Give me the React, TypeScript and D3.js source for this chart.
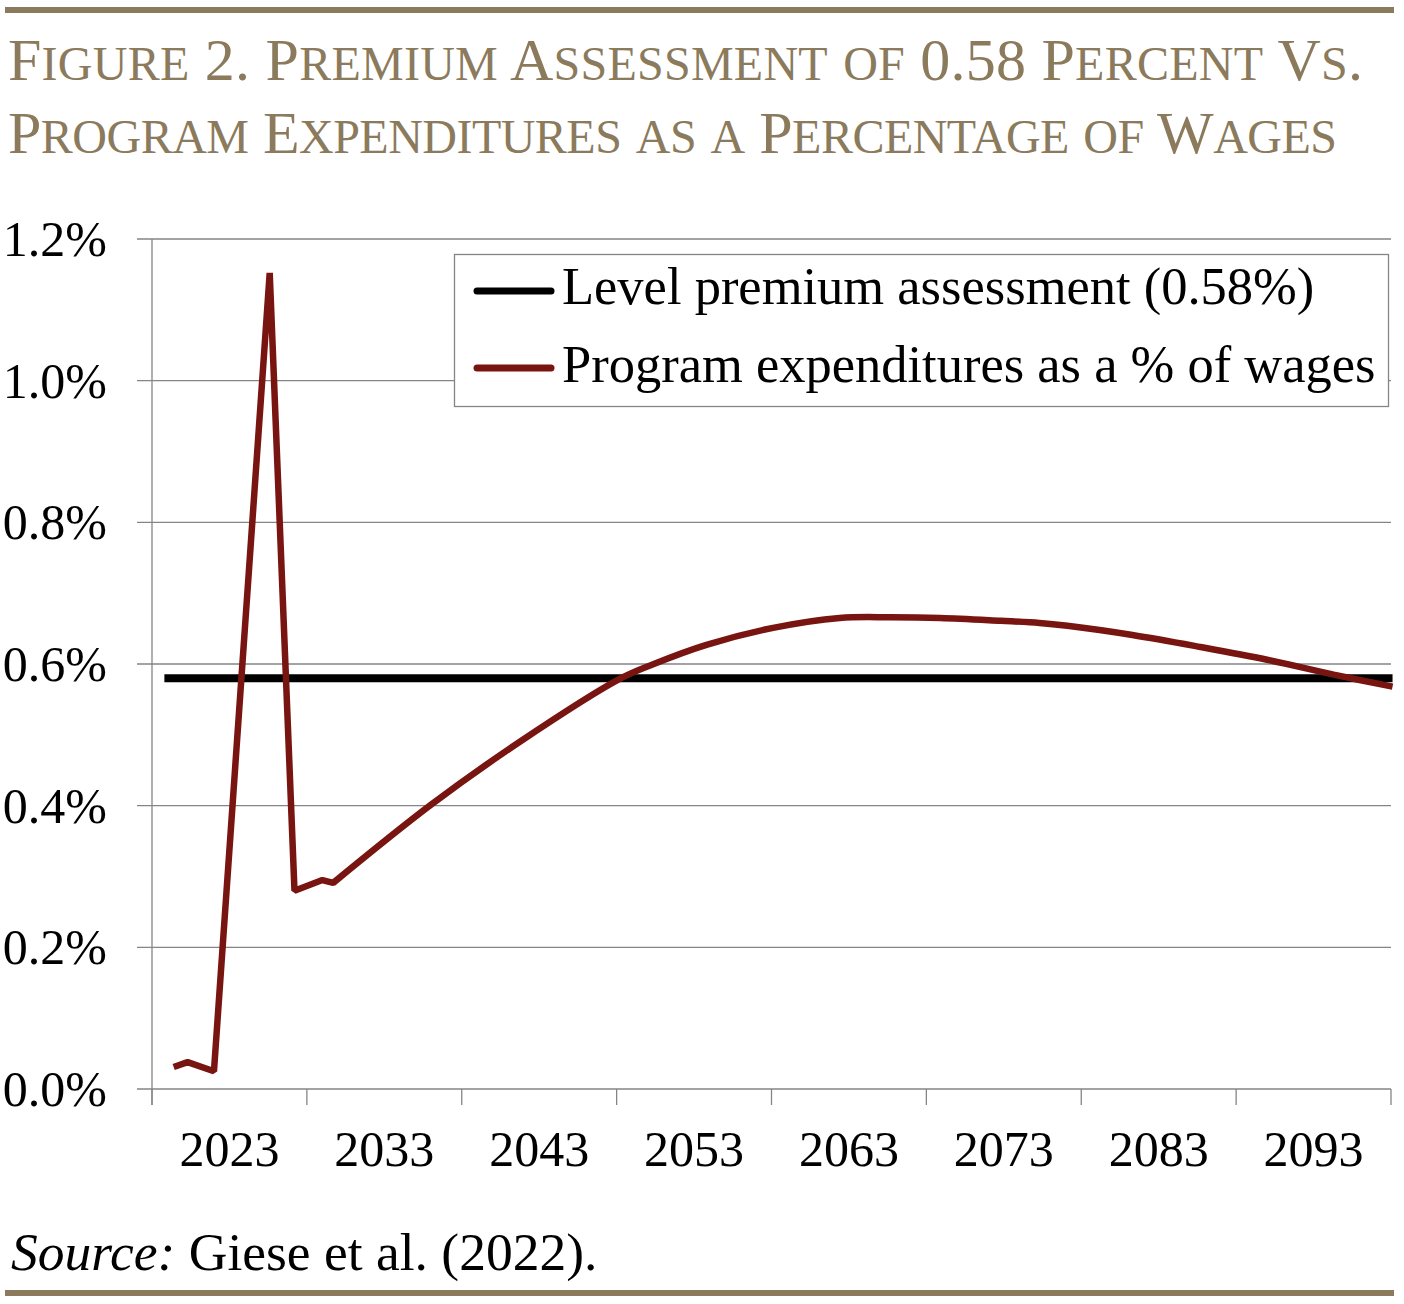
import React from "react";
import * as d3 from "d3";

const titleLines = [
  "Figure 2. Premium Assessment of 0.58 Percent Vs.",
  "Program Expenditures as a Percentage of Wages",
];
const titleWidths = [1355, 1329];
const sourceLabel = "Source:";
const sourceText = " Giese et al. (2022).";

const legendLabels = [
  "Level premium assessment (0.58%)",
  "Program expenditures as a % of wages",
];

// x values in (fractional) years, values in percent of wages
const expenditureYears = [
  2024.4, 2025.3, 2027.0, 2030.6, 2032.2, 2034.0, 2034.7, 2041.0, 2046.8,
  2053.2, 2055.4, 2058.8, 2063.1, 2067.4, 2070.7, 2073.9, 2077.8, 2080.3,
  2082.1, 2086.3, 2090.7, 2095.0, 2099.3, 2103.1,
];
const expenditureValues = [
  0.031, 0.038, 0.025, 1.152, 0.28, 0.295, 0.291, 0.401, 0.491, 0.579,
  0.6, 0.627, 0.651, 0.665, 0.666, 0.665, 0.661, 0.658, 0.654, 0.641,
  0.624, 0.606, 0.585, 0.568,
];
const premiumYears = [2023.8, 2103.1];
const premiumValue = 0.58;

const yTicks = [0, 0.2, 0.4, 0.6, 0.8, 1.0, 1.2];
const xTickYears = [2023, 2033, 2043, 2053, 2063, 2073, 2083, 2093, 2103];
const xLabels = ["2023", "2033", "2043", "2053", "2063", "2073", "2083", "2093"];

const W = 1404;
const H = 1304;
const TITLE_COLOR = "#8b7a5c";
const RED = "#781510";
const GRID = "#858585";
const SERIF = "'Liberation Serif', 'Times New Roman', serif";

function smallCaps(text: string, big: number, small: number) {
  const parts: { s: string; size: number }[] = [];
  for (const ch of text) {
    const isLower = ch !== ch.toUpperCase();
    const size = isLower ? small : big;
    const c = ch.toUpperCase();
    const last = parts[parts.length - 1];
    if (last && last.size === size) last.s += c;
    else parts.push({ s: c, size });
  }
  return parts.map((p, i) => (
    <tspan key={i} fontSize={p.size}>
      {p.s}
    </tspan>
  ));
}

export default function App() {
  const x = d3.scaleLinear().domain([2023, 2103]).range([152, 1391]);
  const y = d3.scaleLinear().domain([0, 1.2]).range([1089, 239]);

  const pts: [number, number][] = expenditureYears.map((yr, i) => [
    x(yr),
    y(expenditureValues[i]),
  ]);
  const split = 6;
  const p1 = d3.line().curve(d3.curveLinear)(pts.slice(0, split + 1)) || "";
  const p2 = (
    d3.line().curve(d3.curveCatmullRom.alpha(0.5))(pts.slice(split)) || ""
  ).replace(/^M/, "L");
  const redPath = p1 + p2;

  const blackPath =
    d3.line()(premiumYears.map((yr) => [x(yr), y(premiumValue)] as [number, number])) || "";

  return (
    <svg
      width={W}
      height={H}
      viewBox={`0 0 ${W} ${H}`}
      style={{ position: "absolute", left: 0, top: 0, background: "#fff" }}
      fontFamily={SERIF}
    >
      <rect x={0} y={0} width={W} height={H} fill="#fff" />
      {/* top and bottom rules */}
      <rect x={5} y={7} width={1389} height={6} fill={TITLE_COLOR} />
      <rect x={5} y={1290} width={1389} height={6} fill={TITLE_COLOR} />

      {/* title */}
      {titleLines.map((t, i) => (
        <text
          key={i}
          x={8}
          y={80 + i * 73}
          fill={TITLE_COLOR}
          fontSize={60}
          textLength={titleWidths[i]}
          lengthAdjust="spacing"
        >
          {smallCaps(t, 60, 48)}
        </text>
      ))}

      {/* grid lines */}
      {yTicks.map((v) => (
        <line
          key={v}
          x1={137}
          x2={1391}
          y1={y(v)}
          y2={y(v)}
          stroke={GRID}
          strokeWidth={1.3}
        />
      ))}
      {/* y axis */}
      <line x1={152} x2={152} y1={y(1.2)} y2={1105} stroke={GRID} strokeWidth={1.3} />
      {/* x ticks */}
      {xTickYears.map((yr) => (
        <line
          key={yr}
          x1={x(yr)}
          x2={x(yr)}
          y1={y(0)}
          y2={1105}
          stroke={GRID}
          strokeWidth={1.3}
        />
      ))}

      {/* y labels */}
      {yTicks.map((v) => (
        <text key={v} x={107} y={y(v) + 17} textAnchor="end" fontSize={50} fill="#000">
          {v.toFixed(1) + "%"}
        </text>
      ))}
      {/* x labels */}
      {xLabels.map((lab, i) => (
        <text
          key={lab}
          x={(x(xTickYears[i]) + x(xTickYears[i + 1])) / 2}
          y={1166}
          textAnchor="middle"
          fontSize={50}
          fill="#000"
        >
          {lab}
        </text>
      ))}

      {/* series */}
      <path d={blackPath} fill="none" stroke="#000" strokeWidth={8} />
      <path d={redPath} fill="none" stroke={RED} strokeWidth={6.5} strokeLinejoin="bevel" />

      {/* legend */}
      <rect x={454.5} y={254.5} width={934} height={152} fill="#fff" stroke={GRID} strokeWidth={1.3} />
      <line x1={477} x2={551} y1={291} y2={291} stroke="#000" strokeWidth={7} strokeLinecap="round" />
      <line x1={477} x2={551} y1={368} y2={368} stroke={RED} strokeWidth={7} strokeLinecap="round" />
      <text x={562} y={304} fontSize={52.5} fill="#000">
        {legendLabels[0]}
      </text>
      <text x={562} y={382} fontSize={52.5} fill="#000">
        {legendLabels[1]}
      </text>

      {/* source */}
      <text x={11} y={1270} fontSize={53.5} fill="#000">
        <tspan fontStyle="italic">{sourceLabel}</tspan>
        <tspan>{sourceText}</tspan>
      </text>
    </svg>
  );
}
